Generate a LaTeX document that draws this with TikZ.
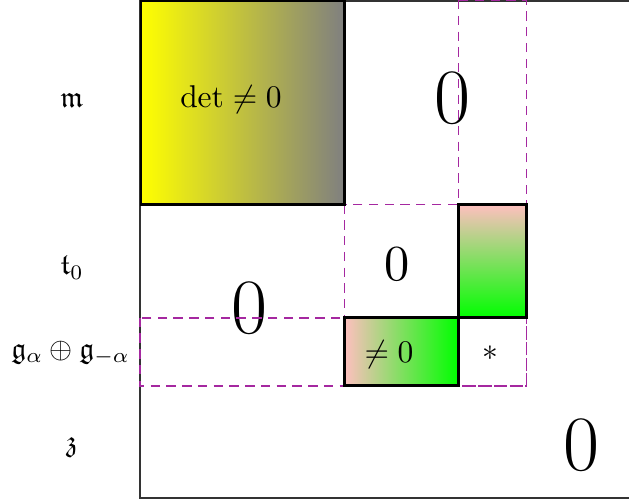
\documentclass[tikz,border=0pt]{standalone}
\usepackage{amssymb}
\definecolor{dashviolet}{RGB}{165,40,160}
\begin{document}
\begin{tikzpicture}[x=0.3175pt,y=-0.3175pt,
  blockbox/.style={draw=black,line width=0.9pt},
  dashline/.style={draw=dashviolet,line width=0.5pt,dash pattern=on 3pt off 2pt},
  frame/.style={draw=black!80,line width=0.45pt},
  lbl/.style={inner sep=0pt},
  rowlbl/.style={inner sep=0pt,scale=0.94},
  bigzero/.style={inner sep=0pt,font=\Huge},
  midzero/.style={inner sep=0pt,scale=1.6}]
\clip[use as bounding box] (0,0) rectangle (629,501);
\draw[frame] (140,0.8) rectangle (638,498);
% big zeros
\node[bigzero] (z1) at (452.5,98) {$0$};
\node[bigzero] (z2) at (249.5,308) {$0$};
\node[bigzero] (z3) at (581,445.5) {$0$};
% dashed block lines
\draw[dashline] (458.3,0) rectangle (526.5,385.7);
\draw[dashline] (140,317.7) rectangle (526.5,385.7);
\draw[dashline] (344.3,204.5) rectangle (526.5,385.7);
% shaded blocks
\draw[blockbox,left color=yellow,right color=gray] (141,1) rectangle (344.3,204.5);
\draw[blockbox,top color=pink,bottom color=green] (458.3,204.5) rectangle (526.5,317.7);
\draw[blockbox,left color=pink,right color=green] (344.3,317.7) rectangle (458.3,385.7);
% texts in blocks
\node[lbl] (det) at (231,100) {$\det\neq 0$};
\node[lbl] (ne) at (389,355) {$\neq 0$};
\node[lbl] (ast) at (490,353) {$*$};
\node[midzero] (z0) at (397.5,264) {$0$};
% row labels
\node[rowlbl] (m) at (72,100) {$\mathfrak{m}$};
\node[rowlbl] (t) at (72,268) {$\mathfrak{t}_0$};
\node[rowlbl] (g) at (70.5,353) {$\mathfrak{g}_\alpha\oplus\mathfrak{g}_{-\alpha}$};
\node[rowlbl] (zz) at (72,447) {$\mathfrak{z}$};
\end{tikzpicture}
\end{document}
